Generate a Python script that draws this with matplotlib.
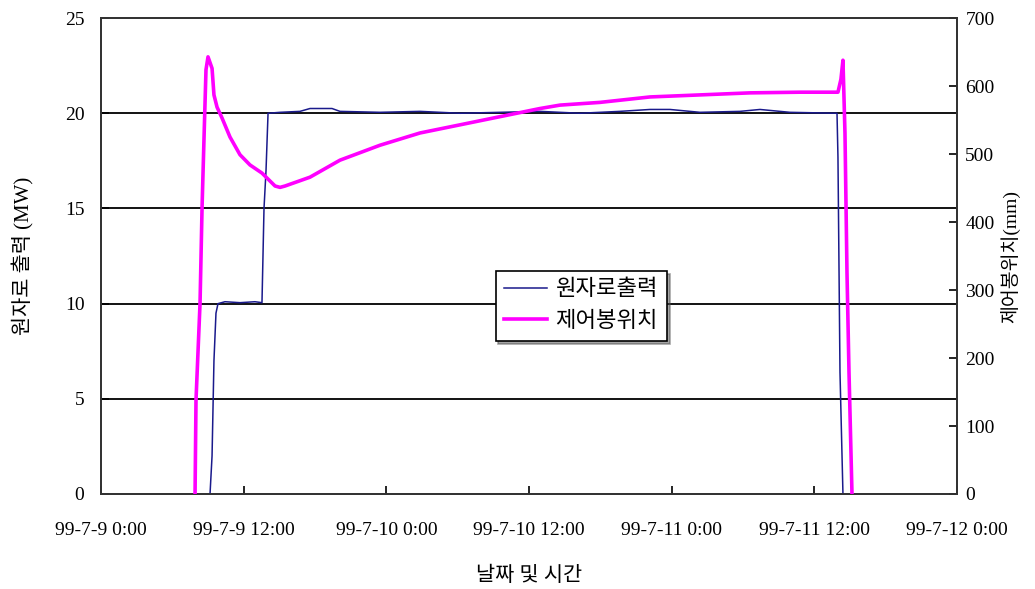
import numpy as np
import pandas as pd
import matplotlib
matplotlib.use("Agg")
import matplotlib.pyplot as plt
import matplotlib.dates as mdates

plt.rcParams['font.family'] = ['Liberation Serif', 'Noto Sans CJK KR']

start = pd.Timestamp("1999-07-09 00:00")

# 원자로출력 (MW): hours since 99-7-9 0:00
power_hours = [9.17, 9.34, 9.50, 9.67, 9.84, 10.43, 11.69, 12.95, 13.54, 13.71, 13.88, 14.05,
               15.06, 16.74, 17.58, 19.43, 20.10, 23.47, 26.83, 30.20, 33.56, 36.93, 40.29,
               43.65, 46.18, 47.86, 50.38, 53.75, 55.43, 57.95, 61.91, 61.99, 62.16, 62.41]
power_mw = [0, 2, 7, 9.5, 10.0, 10.1, 10.05, 10.1, 10.05, 15, 17, 20.0,
            20.05, 20.1, 20.25, 20.25, 20.1, 20.05, 20.1, 20.0, 20.05, 20.1, 20.0,
            20.1, 20.2, 20.2, 20.05, 20.1, 20.2, 20.05, 20.0, 17.7, 6.4, 0]

# 제어봉위치 (mm)
rod_hours = [7.91, 7.99, 8.33, 8.50, 8.66, 8.83, 9.00, 9.34, 9.50, 9.76, 10.18, 10.85, 11.69,
             12.53, 13.54, 14.64, 15.06, 15.48, 17.58, 20.10, 23.47, 26.83, 30.20, 33.56,
             36.93, 38.61, 41.97, 46.18, 50.38, 54.59, 58.79, 61.99, 62.24, 62.41, 62.58,
             62.75, 62.92, 63.17]
rod_mm = [0, 138, 281, 422, 521, 624, 643, 626, 587, 569, 553, 525, 499,
          484, 472, 453, 451, 453, 466, 491, 513, 531, 543, 555,
          567, 572, 576, 584, 587, 590, 591, 591, 610, 638, 531,
          325, 178, 0]

tick_hours = [0, 12, 24, 36, 48, 60, 72]
tick_labels = ["99-7-9 0:00", "99-7-9 12:00", "99-7-10 0:00", "99-7-10 12:00",
               "99-7-11 0:00", "99-7-11 12:00", "99-7-12 0:00"]

power_t = [start + pd.Timedelta(hours=h) for h in power_hours]
rod_t = [start + pd.Timedelta(hours=h) for h in rod_hours]
tick_t = [start + pd.Timedelta(hours=h) for h in tick_hours]

fig = plt.figure(figsize=(10.35, 5.89), dpi=100)
ax = fig.add_axes([0.0976, 0.1613, 0.827, 0.808])
ax2 = ax.twinx()

for v in [5, 10, 15, 20]:
    ax.axhline(v, color='black', lw=1.3, zorder=1)

l1, = ax.plot(power_t, power_mw, color='#1a1a8c', lw=1.1, zorder=3)
l2, = ax2.plot(rod_t, rod_mm, color='#ff00ff', lw=2.6, zorder=3)

ax.set_xlim(tick_t[0], tick_t[-1])
ax.set_ylim(0, 25)
ax2.set_ylim(0, 700)
ax.set_yticks([0, 5, 10, 15, 20, 25])
ax2.set_yticks(range(0, 701, 100))
ax.set_xticks(tick_t)
ax.set_xticklabels(tick_labels)

ax.tick_params(axis='both', direction='in', length=6, labelsize=14, width=1.2)
ax.tick_params(axis='y', pad=12)
ax.tick_params(axis='x', pad=20)
ax2.tick_params(axis='y', direction='in', length=6, labelsize=14, width=1.2, pad=6)

for a in (ax, ax2):
    for s in a.spines.values():
        s.set_linewidth(1.3)
        s.set_color('#333333')

ax.set_ylabel("원자로 출력 (MW)", fontsize=15, labelpad=22)
ax2.set_ylabel("제어봉위치(mm)", fontsize=14, labelpad=4)
ax.set_xlabel("날짜 및 시간", fontsize=15, labelpad=20)

leg = ax2.legend([l1, l2], ["원자로출력", "제어봉위치"], loc='upper left',
                 bbox_to_anchor=(0.448, 0.492), fontsize=16, frameon=True,
                 fancybox=False, shadow=True, handlelength=1.9,
                 borderpad=0.4, labelspacing=0.5, handletextpad=0.4)
leg.get_frame().set_edgecolor('black')
leg.get_frame().set_linewidth(1.2)

fig.savefig("out.png", dpi=100)
